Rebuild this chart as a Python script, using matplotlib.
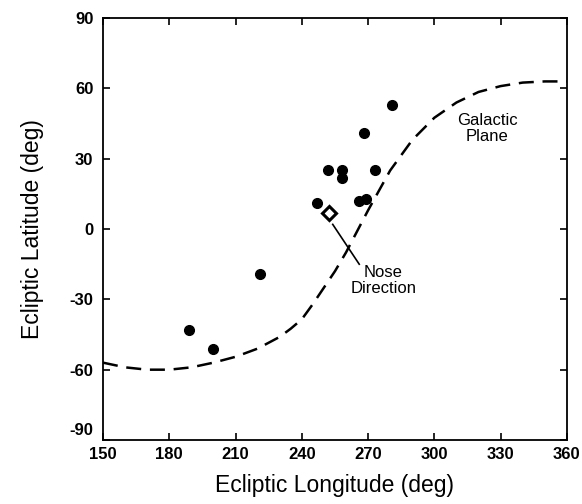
import matplotlib.pyplot as plt
from matplotlib.transforms import ScaledTranslation

plt.rcParams["font.family"] = ["Liberation Sans", "DejaVu Sans"]
plt.rcParams["axes.unicode_minus"] = False

# Observed directions (ecliptic lon, lat in deg)
obs_lon = [189, 200, 221, 247, 252, 258, 258, 266, 269, 268, 273, 281]
obs_lat = [-43, -51, -19, 11, 25, 25, 22, 12, 13, 41, 25, 53]

# Nose direction
nose_lon = [252.5]
nose_lat = [7]

# Galactic plane
gal_lon = [150, 160, 170, 180, 190, 200, 210, 220, 230, 235, 240, 245, 250,
           255, 260, 270, 280, 290, 300, 310, 320, 330, 340, 350, 360]
gal_lat = [-57, -59, -60, -60, -59, -57, -54.5, -51, -46, -42.5, -38.5, -32,
           -25, -18, -10, 8, 25, 38, 47.5, 54, 58.5, 61, 62.5, 63, 63]

x_ticks = [150, 180, 210, 240, 270, 300, 330, 360]
y_ticks = [-90, -60, -30, 0, 30, 60, 90]

fig = plt.figure(figsize=(5.82, 5.04), dpi=100)
ax = fig.add_axes([0.177, 0.127, 0.797, 0.837])

ax.plot(gal_lon, gal_lat, color="black", lw=1.8, dashes=(6, 3.5))
ax.plot(obs_lon, obs_lat, "o", color="black", ms=7)
ax.plot(nose_lon, nose_lat, "D", mfc="white", mec="black", ms=7, mew=2.2)

# pointer from the nose marker to its label
ax.plot([254, 266], [2, -15], color="black", lw=1.2)
ax.text(277, -22, "Nose\nDirection", ha="center", va="center", fontsize=12,
        linespacing=1.05)
ax.text(324, 43, "Galactic\nPlane", ha="center", va="center", fontsize=12,
        linespacing=1.05)

ax.set_xlim(150, 360)
ax.set_ylim(-90, 90)
ax.set_xticks(x_ticks)
ax.set_yticks(y_ticks)
ax.tick_params(direction="in", top=True, right=True, length=5, width=1.2,
               labelsize=12)
ax.tick_params(axis="x", pad=5)
ax.tick_params(axis="y", pad=7)
for lbl in ax.get_xticklabels() + ax.get_yticklabels():
    lbl.set_fontweight("bold")
# lift the -90 label clear of the 150 label, as in the original
low = ax.get_yticklabels()[0]
low.set_transform(low.get_transform() + ScaledTranslation(0, 8 / 72, fig.dpi_scale_trans))
for s in ax.spines.values():
    s.set_linewidth(1.3)

ax.set_xlabel("Ecliptic Longitude (deg)", fontsize=16.5, labelpad=9)
ax.set_ylabel("Ecliptic Latitude (deg)", fontsize=16.5, labelpad=18)

fig.savefig("out.png", dpi=100)
